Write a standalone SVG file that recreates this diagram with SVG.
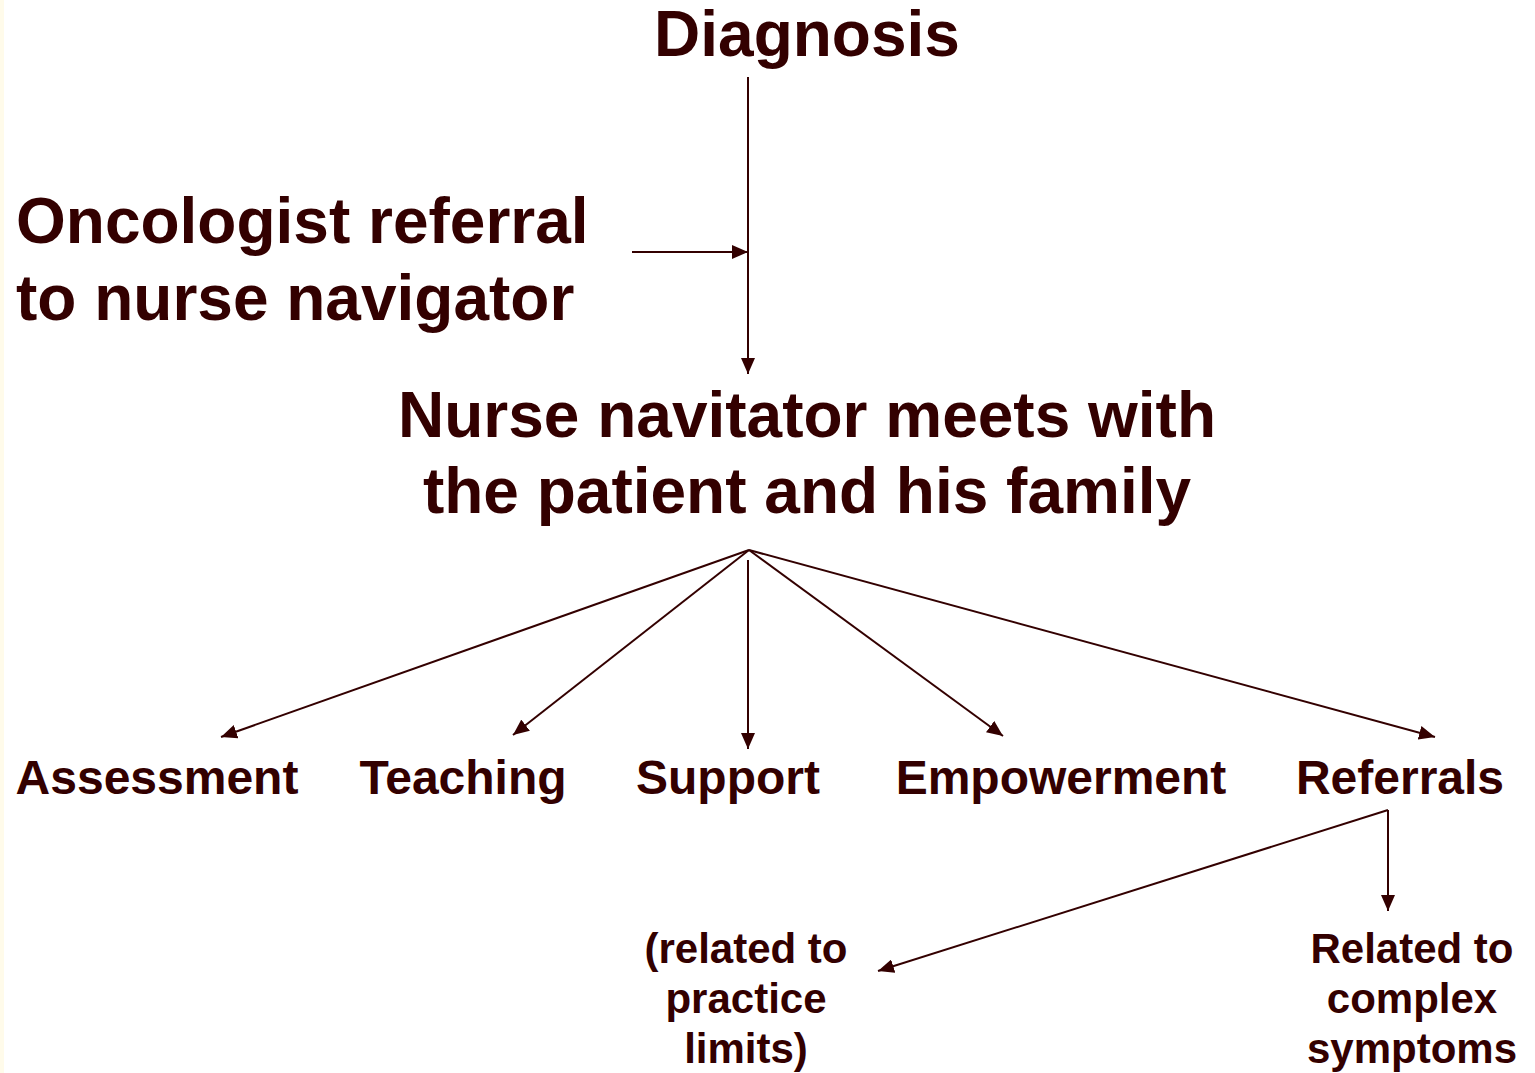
<svg xmlns="http://www.w3.org/2000/svg" width="1535" height="1073" viewBox="0 0 1535 1073">
<style>
text{font-family:"Liberation Sans",Arial,sans-serif;font-weight:bold;fill:#330000}
.big{font-size:64px}
.mid{font-size:48px;text-anchor:middle}
.sm{font-size:42px;text-anchor:middle}
.c{stroke:#330000;stroke-width:2;fill:none}
</style>
<defs>
<marker id="ah" markerUnits="userSpaceOnUse" markerWidth="16" markerHeight="14" refX="16" refY="7" orient="auto">
<path d="M0,0 L16,7 L0,14 Z" fill="#330000"/>
</marker>
</defs>
<rect width="1535" height="1073" fill="#ffffff"/>
<rect width="4" height="1073" fill="#fffbea"/>
<g id="connectors">
<line class="c" x1="748" y1="77" x2="748" y2="374" marker-end="url(#ah)"/>
<line class="c" x1="632" y1="252" x2="748" y2="252" marker-end="url(#ah)"/>
<line class="c" x1="749" y1="550" x2="221" y2="737" marker-end="url(#ah)"/>
<line class="c" x1="749" y1="550" x2="513" y2="735" marker-end="url(#ah)"/>
<line class="c" x1="748" y1="560" x2="748" y2="749" marker-end="url(#ah)"/>
<line class="c" x1="749" y1="550" x2="1003" y2="736" marker-end="url(#ah)"/>
<line class="c" x1="749" y1="550" x2="1435" y2="737" marker-end="url(#ah)"/>
<line class="c" x1="1388" y1="810" x2="878" y2="971" marker-end="url(#ah)"/>
<line class="c" x1="1388" y1="810" x2="1388" y2="911" marker-end="url(#ah)"/>
</g>
<g id="diagnosis"><text class="big" x="807" y="56" text-anchor="middle">Diagnosis</text></g>
<g id="referral"><text class="big" x="16" y="243">Oncologist referral</text><text class="big" x="16" y="320">to nurse navigator</text></g>
<g id="meets"><text class="big" x="807" y="437" text-anchor="middle">Nurse navitator meets with</text><text class="big" x="807" y="513" text-anchor="middle">the patient and his family</text></g>
<g id="assessment"><text class="mid" x="157" y="794">Assessment</text></g>
<g id="teaching"><text class="mid" x="463" y="794">Teaching</text></g>
<g id="support"><text class="mid" x="728" y="794">Support</text></g>
<g id="empowerment"><text class="mid" x="1061" y="794">Empowerment</text></g>
<g id="referrals"><text class="mid" x="1400" y="794">Referrals</text></g>
<g id="practice"><text class="sm" x="746" y="963">(related to</text><text class="sm" x="746" y="1013">practice</text><text class="sm" x="746" y="1063">limits)</text></g>
<g id="complex"><text class="sm" x="1412" y="963">Related to</text><text class="sm" x="1412" y="1013">complex</text><text class="sm" x="1412" y="1063">symptoms</text></g>
</svg>
